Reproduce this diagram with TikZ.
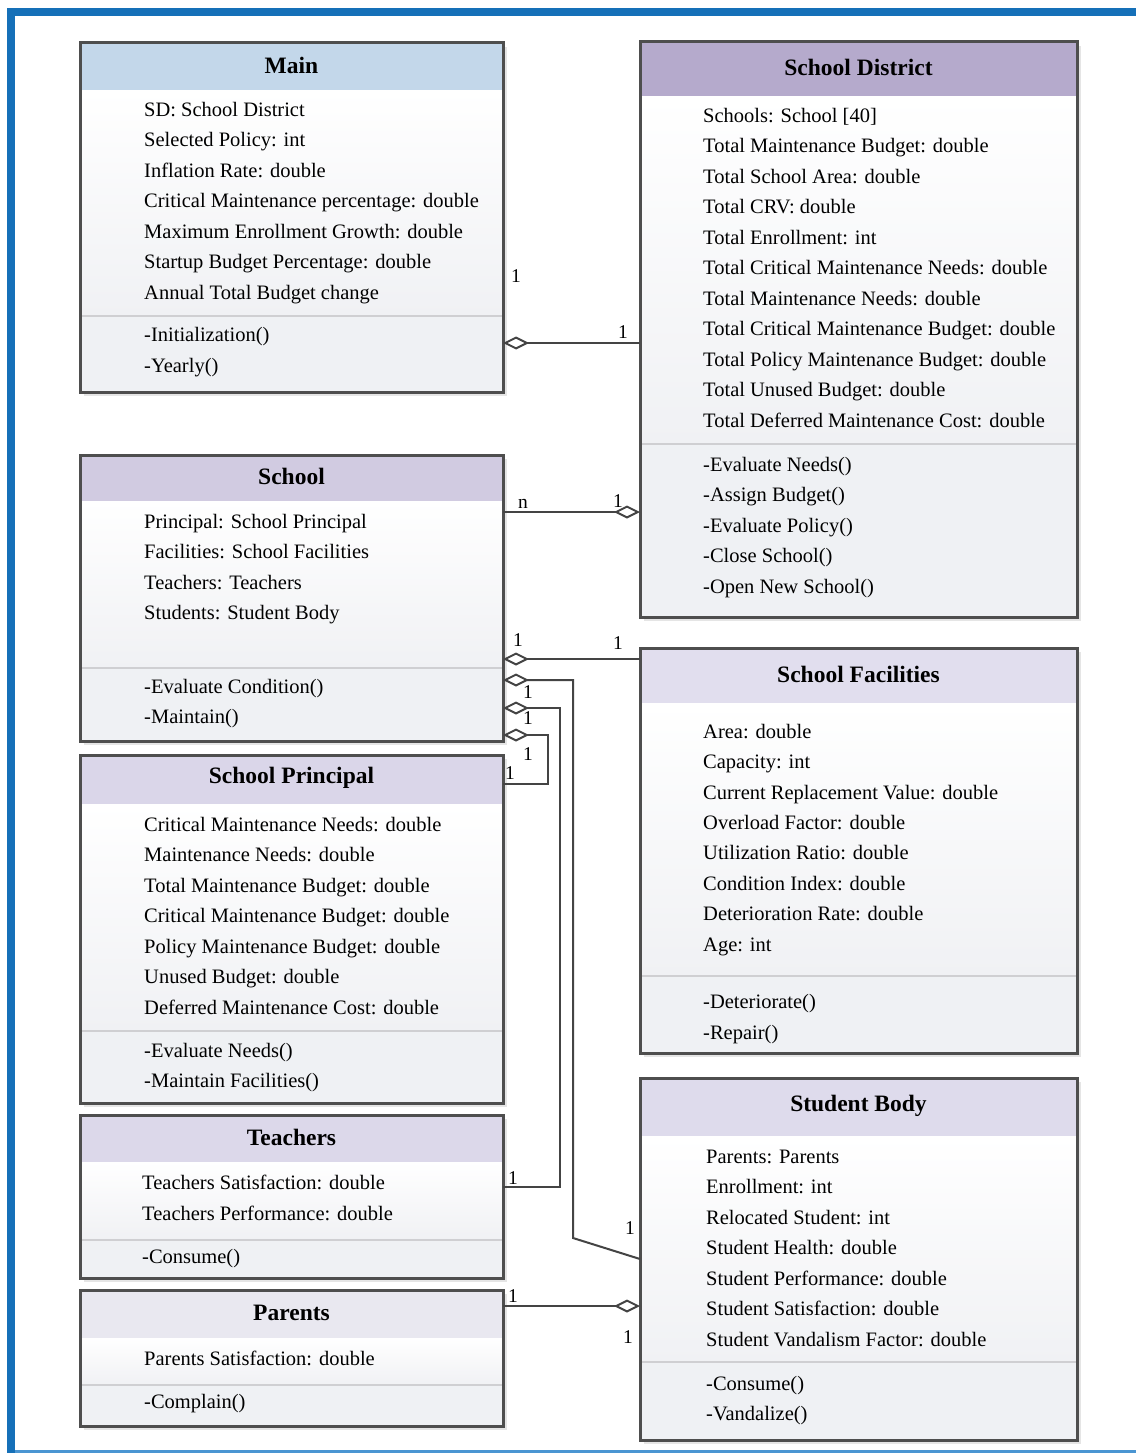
\documentclass[tikz,border=0pt]{standalone}
\usepackage{fontspec}
\setmainfont{Liberation Serif}
\usetikzlibrary{arrows.meta,fit}
\definecolor{frameblue}{HTML}{1570B8}
\definecolor{framelight}{HTML}{4A95D2}
\definecolor{boxline}{HTML}{4E4E4E}
\definecolor{connline}{HTML}{444444}
\definecolor{bodybot}{HTML}{F0F1F4}
\definecolor{methfill}{HTML}{EFF1F4}
\definecolor{sepgray}{HTML}{CFCFD2}
\definecolor{mainhead}{HTML}{C3D7EA}
\definecolor{sdhead}{HTML}{B5AACC}
\definecolor{schoolhead}{HTML}{D1CBE1}
\definecolor{princhead}{HTML}{DAD6E9}
\definecolor{sfhead}{HTML}{E1DEEE}
\definecolor{teachhead}{HTML}{DCD8EA}
\definecolor{parhead}{HTML}{E9E8F0}
\definecolor{sbhead}{HTML}{DEDBEC}
% #1 name, #2 x1, #3 y1, #4 x2, #5 y2, #6 header bottom, #7 separator, #8 header colour, #9 title
\newcommand\umlbox[9]{%
  \fill[black!10] (#2+4,#3+4) rectangle (#4+4,#5+4);
  \shade[top color=white,bottom color=bodybot] (#2,#6) rectangle (#4,#7);
  \fill[methfill] (#2,#7) rectangle (#4,#5);
  \draw[sepgray,line width=1.2pt] (#2,#7) -- (#4,#7);
  \fill[#8] (#2,#3) rectangle (#4,#6);
  \node[boxframe,fit={(#2,#3) (#4,#5)}] (#1) {};
  \node[titletext] (#1-title) at ({(#2+#4)/2},{(#3+#6)/2-1.5}) {#9};
}
\begin{document}
\begin{tikzpicture}[x=1pt,y=-1pt,
  boxframe/.style={draw=boxline,line width=3pt,inner sep=0pt,outer sep=0pt},
  titletext/.style={font=\fontsize{23.5}{28}\selectfont\bfseries,inner sep=0pt},
  attr/.style={anchor=west,inner sep=0pt,font=\fontsize{20.5}{24}\selectfont,text height=18pt,text depth=3.5pt},
  mult/.style={inner sep=0pt,font=\fontsize{19.5}{22}\selectfont},
  conn/.style={draw=connline,line width=2pt},
  dstart/.style={{Diamond[open,length=26pt,width=13pt]}-},
  dend/.style={-{Diamond[open,length=26pt,width=13pt]}},
]
\useasboundingbox (0,0) rectangle (1136,1453);
\fill[white] (0,0) rectangle (1136,1453);
\fill[frameblue] (7,8) rectangle (1136,16);
\fill[frameblue] (7,8) rectangle (15,1453);
\fill[framelight] (15,1450) rectangle (1136,1453);

% ---------- boxes ----------
\umlbox{main}{80}{43}{503}{392}{90}{316}{mainhead}{Main}
\umlbox{sd}{640}{42}{1077}{617}{96}{444}{sdhead}{School District}
\umlbox{school}{80}{455}{503}{741}{501}{668}{schoolhead}{School}
\umlbox{princ}{80}{755}{503}{1103}{804}{1031}{princhead}{School Principal}
\umlbox{sf}{640}{648}{1077}{1053}{703}{976}{sfhead}{School Facilities}
\umlbox{teach}{80}{1115}{503}{1278}{1162}{1240}{teachhead}{Teachers}
\umlbox{par}{80}{1290}{503}{1426}{1338}{1385}{parhead}{Parents}
\umlbox{sb}{640}{1078}{1077}{1440}{1136}{1362}{sbhead}{Student Body}

% ---------- texts ----------
\foreach \t [count=\i from 0] in {SD: School District,Selected Policy: int,Inflation Rate: double,Critical Maintenance percentage: double,Maximum Enrollment Growth: double,Startup Budget Percentage: double,Annual Total Budget change}
  \node[attr] (main-a\i) at (144,{109+30.5*\i}) {\t};
\foreach \t [count=\i from 0] in {-Initialization(),-Yearly()}
  \node[attr] (main-m\i) at (144,{334+31*\i}) {\t};

\foreach \t [count=\i from 0] in {Schools: School [40],Total Maintenance Budget: double,Total School Area: double,Total CRV: double,Total Enrollment: int,Total Critical Maintenance Needs: double,Total Maintenance Needs: double,Total Critical Maintenance Budget: double,Total Policy Maintenance Budget: double,Total Unused Budget: double,Total Deferred Maintenance Cost: double}
  \node[attr] (sd-a\i) at (703,{115+30.5*\i}) {\t};
\foreach \t [count=\i from 0] in {-Evaluate Needs(),-Assign Budget(),-Evaluate Policy(),-Close School(),-Open New School()}
  \node[attr] (sd-m\i) at (703,{464+30.5*\i}) {\t};

\foreach \t [count=\i from 0] in {Principal: School Principal,Facilities: School Facilities,Teachers: Teachers,Students: Student Body}
  \node[attr] (school-a\i) at (144,{521+30.5*\i}) {\t};
\foreach \t [count=\i from 0] in {-Evaluate Condition(),-Maintain()}
  \node[attr] (school-m\i) at (144,{686+30*\i}) {\t};

\foreach \t [count=\i from 0] in {Critical Maintenance Needs: double,Maintenance Needs: double,Total Maintenance Budget: double,Critical Maintenance Budget: double,Policy Maintenance Budget: double,Unused Budget: double,Deferred Maintenance Cost: double}
  \node[attr] (princ-a\i) at (144,{824+30.5*\i}) {\t};
\foreach \t [count=\i from 0] in {-Evaluate Needs(),-Maintain Facilities()}
  \node[attr] (princ-m\i) at (144,{1050+30*\i}) {\t};

\foreach \t [count=\i from 0] in {Area: double,Capacity: int,Current Replacement Value: double,Overload Factor: double,Utilization Ratio: double,Condition Index: double,Deterioration Rate: double,Age: int}
  \node[attr] (sf-a\i) at (703,{731+30.4*\i}) {\t};
\foreach \t [count=\i from 0] in {-Deteriorate(),-Repair()}
  \node[attr] (sf-m\i) at (703,{1001+31*\i}) {\t};

\foreach \t [count=\i from 0] in {Teachers Satisfaction: double,Teachers Performance: double}
  \node[attr] (teach-a\i) at (142,{1182+31*\i}) {\t};
\node[attr] (teach-m0) at (142,1256) {-Consume()};

\node[attr] (par-a0) at (144,1358) {Parents Satisfaction: double};
\node[attr] (par-m0) at (144,1401) {-Complain()};

\foreach \t [count=\i from 0] in {Parents: Parents,Enrollment: int,Relocated Student: int,Student Health: double,Student Performance: double,Student Satisfaction: double,Student Vandalism Factor: double}
  \node[attr] (sb-a\i) at (706,{1156+30.5*\i}) {\t};
\foreach \t [count=\i from 0] in {-Consume(),-Vandalize()}
  \node[attr] (sb-m\i) at (706,{1383+30*\i}) {\t};

% ---------- connectors ----------
\draw[conn,dstart] (main.east |- 0,343) -- (sd.west |- 0,343);
\draw[conn,dend] (school.east |- 0,512) -- (sd.west |- 0,512);
\draw[conn,dstart] (school.east |- 0,659) -- (sf.west |- 0,659);
\draw[conn,dstart] (school.east |- 0,680) -- (573,680) -- (573,1238) -- (sb.west |- 0,1259);
\draw[conn,dstart] (school.east |- 0,708) -- (560,708) -- (560,1187) -- (teach.east |- 0,1187);
\draw[conn,dstart] (school.east |- 0,735) -- (548,735) -- (548,784) -- (princ.east |- 0,784);
\draw[conn,dend] (par.east |- 0,1306) -- (sb.west |- 0,1306);

% ---------- multiplicities ----------
\node[mult] (m1) at (516,276) {1};
\node[mult] (m2) at (623,332) {1};
\node[mult] (m3) at (523,504) {n};
\node[mult] (m4) at (618,501) {1};
\node[mult] (m5) at (518,640) {1};
\node[mult] (m6) at (618,643) {1};
\node[mult] (m7) at (528,692) {1};
\node[mult] (m8) at (528,718) {1};
\node[mult] (m9) at (528,754) {1};
\node[mult] (m10) at (510,773) {1};
\node[mult] (m11) at (513,1178) {1};
\node[mult] (m12) at (630,1228) {1};
\node[mult] (m13) at (513,1296) {1};
\node[mult] (m14) at (628,1337) {1};
\end{tikzpicture}
\end{document}
